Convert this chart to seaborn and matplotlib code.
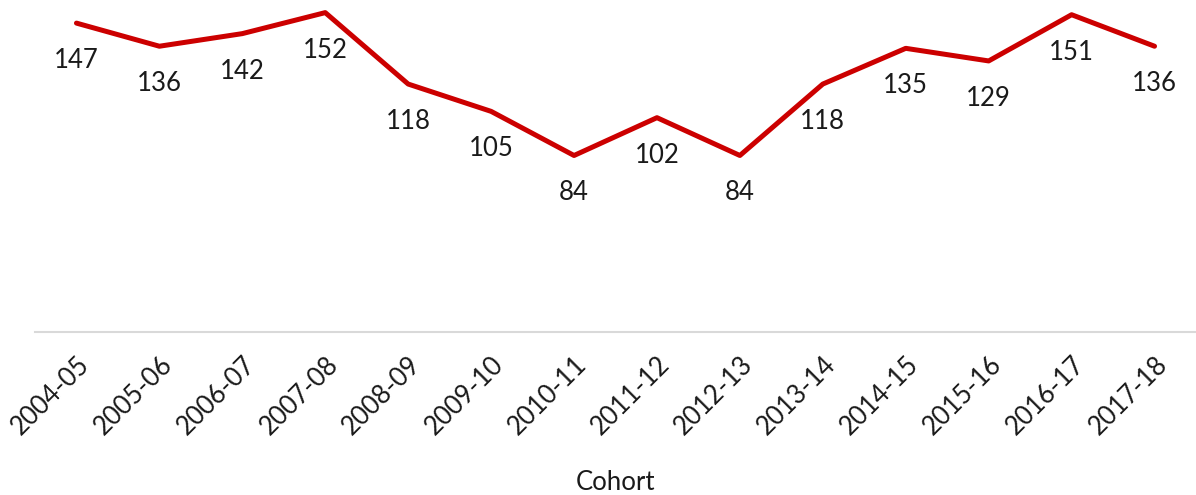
import matplotlib
matplotlib.use("Agg")
import matplotlib.pyplot as plt
import seaborn as sns
import pandas as pd

cohorts = ["2004-05", "2005-06", "2006-07", "2007-08", "2008-09", "2009-10", "2010-11",
           "2011-12", "2012-13", "2013-14", "2014-15", "2015-16", "2016-17", "2017-18"]
values = [147, 136, 142, 152, 118, 105, 84, 102, 84, 118, 135, 129, 151, 136]

sns.set_theme(style="white")
plt.rcParams['font.family'] = ['Lato', 'DejaVu Sans']

df = pd.DataFrame({"Cohort": cohorts, "Value": values})

fig = plt.figure(figsize=(11.96, 4.95), dpi=100)
ax = fig.add_axes([35/1196, 1 - 332/495, (1196 - 35)/1196, 332/495])

sns.lineplot(data=df, x="Cohort", y="Value", ax=ax, color="#CC0000", linewidth=3.6,
             sort=False)

for i, v in enumerate(values):
    ax.annotate(str(v), (i, v), xytext=(0, -18), textcoords="offset points",
                ha="center", va="top", fontsize=18.5, color="#1a1a1a")

ax.set_xlim(-0.5, len(cohorts) - 0.5)
ax.set_ylim(0, 158)
ax.set_yticks([])
ax.set_ylabel("")
for s in ["top", "left", "right"]:
    ax.spines[s].set_visible(False)
ax.spines["bottom"].set_color("#d9d9d9")
ax.spines["bottom"].set_linewidth(1.5)
ax.tick_params(axis="x", length=0, pad=14, labelsize=18.5, colors="#1a1a1a")
plt.setp(ax.get_xticklabels(), rotation=45, ha="right", rotation_mode="anchor")
ax.set_xlabel("Cohort", fontsize=18.5, color="#1a1a1a", labelpad=22)

fig.savefig("out.png", dpi=100)
